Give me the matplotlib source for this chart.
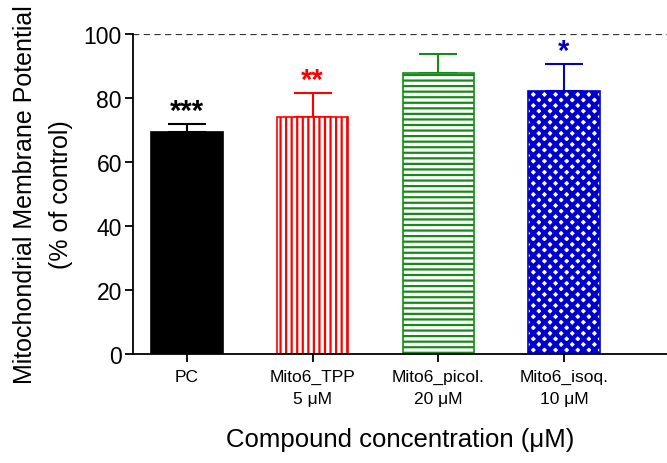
import matplotlib.pyplot as plt

plt.rcParams["font.family"] = ["Liberation Sans", "DejaVu Sans"]

# data
groups = ["PC", "Mito6_TPP\n5 μM", "Mito6_picol.\n20 μM", "Mito6_isoq.\n10 μM"]
means = [69.5, 74.0, 87.8, 82.2]
errs = [2.4, 7.6, 5.9, 8.5]
stars = ["***", "**", "", "*"]
colors = ["black", "#ff0000", "#168a16", "#0000cc"]
hatches = [None, "|||", "---", "xxx"]

fig = plt.figure(figsize=(6.67, 4.64), dpi=100)
ax = fig.add_axes([0.1994, 0.235, 0.8006, 0.6896])

x = list(range(len(groups)))
for i in x:
    c = colors[i]
    if hatches[i] is None:
        ax.bar(i, means[i], width=0.57, color=c, edgecolor=c, linewidth=1.2, zorder=2)
    else:
        lw = 3.0 if hatches[i] == "xxx" else 1.6
        with plt.rc_context({"hatch.linewidth": lw}):
            ax.bar(i, means[i], width=0.57, facecolor="white", edgecolor=c,
                   hatch=hatches[i], linewidth=1.2, zorder=2)
    ax.errorbar(i, means[i], yerr=[[0], [errs[i]]], color=c, capsize=13.5,
                elinewidth=1.5, capthick=1.5, zorder=1)
    if stars[i]:
        ax.annotate(stars[i], (i, means[i] + errs[i]), xytext=(0, 9),
                    textcoords="offset points", ha="center", va="center",
                    fontsize=21, fontweight="bold", color=c)

ax.axhline(100, color="#333333", linestyle=(0, (2.8, 2)), linewidth=1.6, zorder=0)

ax.set_xlim(-0.43, 3.82)
ax.set_ylim(0, 100)
ax.set_yticks([0, 20, 40, 60, 80, 100])
ax.set_xticks(x)
ax.set_xticklabels(groups, fontsize=12.5, linespacing=1.55)
ax.tick_params(axis="y", labelsize=16.5, length=6, width=1.3, pad=2)
ax.tick_params(axis="x", length=6, width=1.3, pad=5)

for s in ["top", "right"]:
    ax.spines[s].set_visible(False)
for s in ["left", "bottom"]:
    ax.spines[s].set_linewidth(1.3)

ax.set_ylabel("Mitochondrial Membrane Potential\n(% of control)", fontsize=18,
              linespacing=1.6, labelpad=8)
ax.set_xlabel("Compound concentration (μM)", fontsize=18.5, labelpad=15)

fig.savefig("out.png", dpi=100)
